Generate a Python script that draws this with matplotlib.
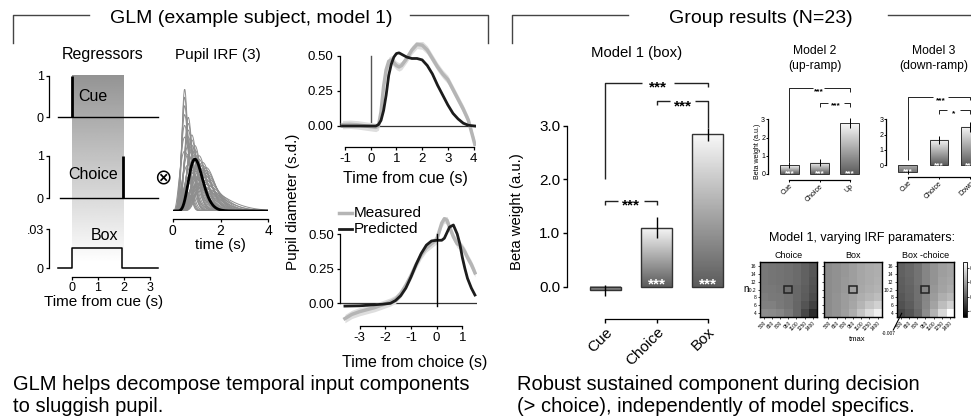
import numpy as np
import matplotlib
matplotlib.use("Agg")
import matplotlib.pyplot as plt
from matplotlib.lines import Line2D
from matplotlib.patches import Rectangle
from matplotlib.transforms import ScaledTranslation
from matplotlib.colors import Normalize
from matplotlib.cm import ScalarMappable

plt.rcParams['font.family'] = ['Liberation Sans', 'DejaVu Sans']
plt.rcParams['axes.linewidth'] = 0.9
plt.rcParams['xtick.major.width'] = 0.9
plt.rcParams['ytick.major.width'] = 0.9
plt.rcParams['axes.unicode_minus'] = False

# ---------------- data ----------------
REG_NAMES = ['Cue', 'Choice', 'Box']
CUE_T = 0.0
CHOICE_T = 1.98
BOX_END = 1.92
BOX_H = 0.0155

IRF_N = [4, 6, 8, 10.1, 12, 14, 16]
IRF_TMAX = [0.50, 0.65, 0.80, 0.93, 1.10, 1.25, 1.40]
IRF_CANON_N = 10.1
IRF_CANON_TMAX = 0.93

TC_CUE_T = [-1.1, -0.8, -0.5, -0.2, 0.0, 0.2, 0.3, 0.4, 0.5, 0.6, 0.7, 0.8, 0.9, 1.0,
            1.1, 1.2, 1.4, 1.6, 1.8, 2.0, 2.2, 2.4, 2.6, 2.8, 3.0, 3.2, 3.4, 3.6, 3.8, 4.05]
TC_CUE_MEAS = [0.01, 0.012, 0.008, 0.0, -0.005, -0.01, 0.0, 0.10, 0.28, 0.40, 0.46, 0.47, 0.45,
               0.43, 0.42, 0.43, 0.48, 0.54, 0.58, 0.575, 0.54, 0.48, 0.42, 0.37, 0.33, 0.26,
               0.19, 0.12, 0.04, -0.13]
TC_CUE_PRED = [0.0, 0.0, 0.0, 0.0, 0.0, 0.0, 0.01, 0.04, 0.11, 0.22, 0.36, 0.44, 0.49, 0.515,
               0.52, 0.51, 0.49, 0.48, 0.48, 0.47, 0.43, 0.37, 0.29, 0.22, 0.15, 0.09, 0.05,
               0.02, 0.005, 0.0]
TC_CHOICE_T = [-3.57, -3.3, -3.0, -2.7, -2.4, -2.1, -1.8, -1.6, -1.4, -1.2, -1.0, -0.8, -0.6,
               -0.4, -0.2, 0.0, 0.1, 0.2, 0.3, 0.4, 0.5, 0.65, 0.8, 0.9, 1.0, 1.1, 1.2, 1.35, 1.49]
TC_CHOICE_MEAS = [-0.11, -0.08, -0.06, -0.045, -0.03, -0.01, 0.01, 0.03, 0.07, 0.13, 0.20, 0.28,
                  0.35, 0.40, 0.43, 0.46, 0.52, 0.58, 0.61, 0.60, 0.55, 0.48, 0.43, 0.42, 0.40,
                  0.37, 0.33, 0.28, 0.22]
TC_CHOICE_PRED = [-0.02, -0.019, -0.018, -0.014, -0.01, -0.006, 0.0, 0.02, 0.055, 0.11, 0.19,
                  0.28, 0.36, 0.42, 0.45, 0.455, 0.455, 0.455, 0.47, 0.51, 0.55, 0.565, 0.50,
                  0.43, 0.33, 0.25, 0.18, 0.11, 0.06]
MEAS_SEM = 0.03

M1_CATS = ['Cue', 'Choice', 'Box']
M1_VALS = [-0.07, 1.10, 2.84]
M1_ERR = [0.10, 0.19, 0.12]
M1_BAR_STARS = ['', '***', '***']

M2_CATS = ['Cue', 'Choice', 'Up']
M2_VALS = [0.49, 0.63, 2.80]
M2_ERR = [0.18, 0.18, 0.30]
M2_BAR_STARS = ['***', '***', '***']

M3_CATS = ['Cue', 'Choice', 'Down']
M3_VALS = [-0.45, 1.65, 2.52]
M3_ERR = [0.12, 0.25, 0.33]
M3_BAR_STARS = ['***', '***', '***']

HM_N_LABELS = ['16', '14', '12', '10.2', '8', '6', '4']
HM_TMAX_LABELS = ['500', '650', '800', '950', '1100', '1250', '1400']
HM_TITLES = ['Choice', 'Box', 'Box -choice']
HM_CHOICE = [[0.47, 0.46, 0.45, 0.44, 0.42, 0.38, 0.34],
             [0.47, 0.46, 0.45, 0.44, 0.42, 0.38, 0.34],
             [0.47, 0.46, 0.45, 0.44, 0.42, 0.38, 0.33],
             [0.48, 0.47, 0.46, 0.44, 0.41, 0.37, 0.32],
             [0.49, 0.48, 0.47, 0.45, 0.41, 0.36, 0.30],
             [0.50, 0.50, 0.48, 0.45, 0.40, 0.33, 0.26],
             [0.55, 0.54, 0.52, 0.48, 0.40, 0.28, 0.17]]
HM_BOX = [[0.55, 0.57, 0.59, 0.62, 0.65, 0.67, 0.68],
          [0.55, 0.57, 0.59, 0.62, 0.65, 0.67, 0.68],
          [0.55, 0.57, 0.60, 0.62, 0.65, 0.67, 0.69],
          [0.55, 0.57, 0.60, 0.63, 0.66, 0.68, 0.70],
          [0.55, 0.58, 0.61, 0.64, 0.68, 0.71, 0.74],
          [0.55, 0.58, 0.61, 0.65, 0.71, 0.77, 0.82],
          [0.55, 0.58, 0.62, 0.68, 0.77, 0.86, 0.94]]
HM_DIFF = [[0.38, 0.41, 0.45, 0.52, 0.58, 0.62, 0.64],
           [0.38, 0.41, 0.45, 0.52, 0.58, 0.62, 0.64],
           [0.37, 0.40, 0.45, 0.52, 0.58, 0.63, 0.65],
           [0.36, 0.39, 0.44, 0.52, 0.59, 0.64, 0.67],
           [0.34, 0.38, 0.44, 0.52, 0.61, 0.68, 0.72],
           [0.32, 0.36, 0.43, 0.53, 0.64, 0.74, 0.82],
           [0.28, 0.33, 0.41, 0.55, 0.70, 0.85, 1.00]]

# ---------------- helpers ----------------
W, H = 971, 420
fig = plt.figure(figsize=(W / 100, H / 100), dpi=100)
fig.patch.set_facecolor('white')


def add_ax(x0, y0, x1, y1, **kw):
    return fig.add_axes([x0 / W, 1 - y1 / H, (x1 - x0) / W, (y1 - y0) / H], **kw)


def ftext(x, y, s, **kw):
    return fig.text(x / W, 1 - y / H, s, **kw)


def fline(xs, ys, **kw):
    fig.add_artist(Line2D([x / W for x in xs], [1 - y / H for y in ys], **kw))


def clean(ax, left=True, bottom=True):
    ax.patch.set_alpha(0)
    ax.spines['top'].set_visible(False)
    ax.spines['right'].set_visible(False)
    ax.spines['left'].set_visible(left)
    ax.spines['bottom'].set_visible(bottom)
    if not left:
        ax.set_yticks([])
    if not bottom:
        ax.set_xticks([])


def star(ax, x, y, s, fs, color='k', weight='bold'):
    off = ScaledTranslation(0, -0.60 * fs / 72, fig.dpi_scale_trans)
    ax.text(x, y, s, fontsize=fs, color=color, ha='center', va='baseline',
            fontweight=weight, transform=ax.transData + off, zorder=7)


def bracket(ax, x1, x2, h, l1, l2, label, xt, gap, fs, lw, color='#222'):
    ax.plot([x1, x1, xt - gap], [l1, h, h], color=color, lw=lw, zorder=6,
            solid_capstyle='butt', clip_on=False)
    ax.plot([xt + gap, x2, x2], [h, h, l2], color=color, lw=lw, zorder=6,
            solid_capstyle='butt', clip_on=False)
    star(ax, xt, h, label, fs)


def grad_bar(ax, x, v, w, lw):
    if v >= 0:
        g = np.linspace(0.97, 0.36, 128)[:, None]
        ext = (x - w / 2, x + w / 2, 0, v)
    else:
        g = np.linspace(0.68, 0.45, 128)[:, None]
        ext = (x - w / 2, x + w / 2, v, 0)
    ax.imshow(g, extent=ext, origin='upper', cmap='gray', vmin=0, vmax=1,
              aspect='auto', interpolation='bilinear', zorder=2)
    ax.add_patch(Rectangle((x - w / 2, min(0, v)), w, abs(v), fill=False,
                           ec='#333333', lw=lw, zorder=3))


# ---------------- headers ----------------
LC = '#444444'
fline([13.3, 13.3, 89.3], [43.3, 15, 15], color=LC, lw=1)
fline([410, 488.3, 488.3], [15, 15, 43.3], color=LC, lw=1)
fline([511.7, 511.7, 628.3], [43.3, 15, 15], color=LC, lw=1)
fline([888.3, 972], [15, 15], color=LC, lw=1)
ftext(251, 23.3, 'GLM (example subject, model 1)', fontsize=14, ha='center', va='baseline')
ftext(761, 23.3, 'Group results (N=23)', fontsize=14, ha='center', va='baseline')

# ---------------- regressors ----------------
XL_REG = (-0.6, 3.35)
bg = add_ax(56.4, 75, 159.1, 263)
bg.imshow(np.linspace(0.58, 1.0, 256)[:, None], extent=(CUE_T, CHOICE_T, 0, 1),
          origin='upper', cmap='gray', vmin=0, vmax=1, aspect='auto', interpolation='bilinear')
bg.set_xlim(*XL_REG)
bg.set_ylim(0, 1)
bg.axis('off')

reg_specs = [(76, 117, 1.0, ['0', '1']), (156, 198.3, 1.0, ['0', '1']),
             (229.3, 268.3, 0.03, ['0', '.03'])]
reg_axes = []
for i, (y0, y1, top, tl) in enumerate(reg_specs):
    ax = add_ax(56.4, y0, 159.1, y1)
    clean(ax, left=True, bottom=(i == 2))
    ax.set_xlim(*XL_REG)
    ax.set_ylim(0, top)
    ax.spines['left'].set_position(('outward', 5))
    ax.spines['left'].set_bounds(0, top)
    ax.set_yticks([0, top])
    ax.set_yticklabels(tl)
    ax.tick_params(axis='y', length=2.5, pad=1.5, labelsize=9)
    reg_axes.append(ax)

ax = reg_axes[0]
ax.plot([-0.55, 3.3], [0, 0], color='k', lw=1, clip_on=False)
ax.plot([CUE_T, CUE_T], [0, 1], color='k', lw=2, clip_on=False, solid_capstyle='butt')
ax = reg_axes[1]
ax.plot([-0.45, 3.3], [0, 0], color='k', lw=1, clip_on=False)
ax.plot([CHOICE_T, CHOICE_T], [0, 1], color='k', lw=2, clip_on=False, solid_capstyle='butt')
ax = reg_axes[2]
ax.plot([-0.52, CUE_T, CUE_T, BOX_END, BOX_END, 3.3], [0, 0, BOX_H, BOX_H, 0, 0], color='k',
        lw=1.1, clip_on=False)
ax.spines['bottom'].set_position(('outward', 6))
ax.spines['bottom'].set_bounds(0, 3)
ax.set_xticks([0, 1, 2, 3])
ax.tick_params(axis='x', length=2.5, pad=1.5, labelsize=9)

ftext(93.3, 96.7, REG_NAMES[0], fontsize=11.5, ha='center', va='center')
ftext(93.3, 174, REG_NAMES[1], fontsize=11.5, ha='center', va='center')
ftext(104, 236, REG_NAMES[2], fontsize=11.5, ha='center', va='center')
ftext(103, 55, 'Regressors', fontsize=11.5, ha='center', va='center')
ftext(103.5, 302, 'Time from cue (s)', fontsize=11, ha='center', va='center')

# ---------------- IRF ----------------
irf_ax = add_ax(172.7, 89.3, 268.3, 211)
clean(irf_ax, left=False, bottom=True)
tt = np.linspace(0, 4, 400)


def erlang(t, n, tmax):
    h = t ** n * np.exp(-n * t / tmax)
    return h / h.sum()


ymax = 0
for n in IRF_N:
    for tm in IRF_TMAX:
        hh = erlang(tt, n, tm)
        ymax = max(ymax, hh.max())
        irf_ax.plot(tt, hh, color='#8e8e8e', lw=0.7, zorder=1)
irf_ax.plot(tt, erlang(tt, IRF_CANON_N, IRF_CANON_TMAX), color='k', lw=2, zorder=3)
irf_ax.set_xlim(0, 4)
irf_ax.set_ylim(0, ymax)
irf_ax.spines['bottom'].set_position(('outward', 5.8))
irf_ax.set_xticks([0, 2, 4])
irf_ax.tick_params(axis='x', length=2.5, pad=1.0, labelsize=10)
ftext(218, 55, 'Pupil IRF (3)', fontsize=11, ha='center', va='center')
ftext(220.8, 245, 'time (s)', fontsize=11, ha='center', va='center')
ftext(163, 178, '\u2297', fontsize=15, ha='center', va='center', family='DejaVu Sans')

# ---------------- time courses ----------------
MEAS_C, BAND_C, PRED_C = '#b5b5b5', '#dedede', '#1c1c1c'


def timecourse(ax, t, meas, pred, xl, yl, xb):
    t = np.asarray(t)
    meas = np.asarray(meas)
    clean(ax)
    ax.axhline(0, color='#333333', lw=0.9, zorder=1)
    ax.fill_between(t, meas - MEAS_SEM, meas + MEAS_SEM, color=BAND_C, lw=0, zorder=2)
    ax.plot(t, meas, color=MEAS_C, lw=2.5, zorder=3)
    ax.plot(t, pred, color=PRED_C, lw=2, zorder=4)
    ax.set_xlim(*xl)
    ax.set_ylim(*yl)
    ax.spines['left'].set_bounds(0, 0.5)
    ax.spines['bottom'].set_bounds(*xb)
    ax.set_yticks([0, 0.25, 0.5])
    ax.set_yticklabels(['0.00', '0.25', '0.50'])
    ax.set_xticks(range(xb[0], xb[1] + 1))
    ax.tick_params(length=2.5, pad=2, labelsize=9.5)


tc1 = add_ax(339.9, 41.6, 476.1, 147.1)
timecourse(tc1, TC_CUE_T, TC_CUE_MEAS, TC_CUE_PRED, (-1.2, 4.1), (-0.15, 0.6), (-1, 4))
tc1.plot([0, 0], [0, 0.5], color='#555555', lw=1, zorder=1.5)
ftext(405.3, 178, 'Time from cue (s)', fontsize=11.5, ha='center', va='center')

tc2 = add_ax(340.3, 217.4, 476.5, 325.5)
timecourse(tc2, TC_CHOICE_T, TC_CHOICE_MEAS, TC_CHOICE_PRED, (-3.75, 1.55), (-0.16, 0.62), (-3, 1))
tc2.plot([0, 0], [-0.02, 0.5], color='k', lw=1, zorder=5)
ftext(415, 362, 'Time from choice (s)', fontsize=11.5, ha='center', va='center')

ftext(293.3, 201.7, 'Pupil diameter (s.d.)', fontsize=11, ha='center', va='center', rotation=90)
fline([339, 352], [212.7, 212.7], color=MEAS_C, lw=2.5)
fline([339, 352], [229.5, 229.5], color=PRED_C, lw=2)
ftext(353.5, 212.7, 'Measured', fontsize=11, ha='left', va='center')
ftext(353.5, 229.5, 'Predicted', fontsize=11, ha='left', va='center')


# ---------------- bar charts ----------------
def barchart(ax, cats, vals, errs, xl, yl, w, fs_tick, lw, tick_len, pad):
    clean(ax)
    for i, (v, e) in enumerate(zip(vals, errs)):
        grad_bar(ax, i, v, w, lw)
        ax.plot([i, i], [v - e, v + e], color='k', lw=lw, zorder=5, solid_capstyle='butt')
    ax.set_xlim(*xl)
    ax.set_ylim(*yl)
    ax.spines['left'].set_bounds(0, 3)
    ax.spines['bottom'].set_bounds(0, len(cats) - 1)
    ax.set_yticks([0, 1, 2, 3])
    ax.set_xticks(range(len(cats)))
    ax.set_xticklabels(cats, rotation=45, ha='right', rotation_mode='anchor')
    ax.tick_params(length=tick_len, pad=pad, labelsize=fs_tick, width=lw)


m1 = add_ax(566.7, 71.9, 733.3, 318.9)
barchart(m1, M1_CATS, M1_VALS, M1_ERR, (-0.754, 2.5), (-0.6, 4.0), 0.6, 11, 1, 3, 1.5)
for i, s in enumerate(M1_BAR_STARS):
    if s:
        star(m1, i, 0.13, s, 11, color='white')
m1.set_yticklabels(['0.0', '1.0', '2.0', '3.0'])
bracket(m1, 0, 2, 3.80, 2.0, 3.71, '***', 1.03, 0.32, 11, 1)
bracket(m1, 1, 2, 3.46, 3.38, 2.96, '***', 1.51, 0.25, 11, 1)
bracket(m1, 0, 1, 1.60, 1.52, 1.52, '***', 0.5, 0.26, 11, 1)
ftext(636.7, 56.7, 'Model 1 (box)', fontsize=10.7, ha='center', va='baseline')
ftext(516.7, 211.7, 'Beta weight (a.u.)', fontsize=10.7, ha='center', va='center', rotation=90)

m2 = add_ax(767.8, 84.8, 861.7, 180.0)
barchart(m2, M2_CATS, M2_VALS, M2_ERR, (-0.72, 2.4), (-0.33, 4.9), 0.64, 5, 0.7, 1.3, 0.6)
for i, s in enumerate(M2_BAR_STARS):
    star(m2, i, 0.18, s, 6, color='white')
bracket(m2, 0, 2, 4.71, 0.68, 4.52, '***', 0.97, 0.18, 6, 0.7)
bracket(m2, 1, 2, 3.92, 3.66, 3.66, '***', 1.55, 0.27, 6, 0.7)
ftext(815, 54.5, 'Model 2', fontsize=8.7, ha='center', va='baseline')
ftext(815, 69, '(up-ramp)', fontsize=8.7, ha='center', va='baseline')
ftext(757.5, 151.7, 'Beta weight (a.u.)', fontsize=5, ha='center', va='center', rotation=90)

m3 = add_ax(886.0, 92.8, 982.7, 176.9)
barchart(m3, M3_CATS, M3_VALS, M3_ERR, (-0.7, 2.4), (-0.78, 4.75), 0.6, 5, 0.7, 1.3, 0.6)
for i, s in enumerate(M3_BAR_STARS):
    yc = M3_VALS[i] / 2 if M3_VALS[i] < 0 else 0.2
    star(m3, i, yc, s, 6, color='white')
bracket(m3, 0, 2, 4.49, 0.33, 4.30, '***', 1.06, 0.24, 6, 0.7)
bracket(m3, 1, 2, 3.62, 3.36, 3.36, '*', 1.46, 0.22, 6, 0.7)
ftext(933.3, 54.5, 'Model 3', fontsize=8.7, ha='center', va='baseline')
ftext(933.3, 69, '(down-ramp)', fontsize=8.7, ha='center', va='baseline')

# ---------------- heatmaps ----------------
hm_x = [(760, 816.7), (824.3, 881.7), (896.7, 954)]
for k, (data, (x0, x1)) in enumerate(zip([HM_CHOICE, HM_BOX, HM_DIFF], hm_x)):
    ax = add_ax(x0, 261.7, x1, 317.3)
    ax.imshow(np.array(data), cmap='gray', vmin=0, vmax=1, aspect='auto', interpolation='nearest')
    ax.add_patch(Rectangle((2.5, 2.5), 1, 1, fill=False, ec='#222222', lw=1.1))
    ax.set_xticks(range(7))
    ax.set_xticklabels(HM_TMAX_LABELS, rotation=45, ha='right', rotation_mode='anchor')
    ax.set_yticks(range(7))
    ax.set_yticklabels(HM_N_LABELS if k != 1 else [''] * 7)
    ax.tick_params(length=1.5, width=0.5, pad=1, labelsize=3.5)
    for sp in ax.spines.values():
        sp.set_linewidth(1.0)
    ftext((x0 + x1) / 2, 256, HM_TITLES[k], fontsize=6.5, ha='center', va='center')

cax = add_ax(963.3, 261.7, 966.7, 317.3)
cb = fig.colorbar(ScalarMappable(norm=Normalize(-0.007, 0.012), cmap='gray'), cax=cax)
cb.ax.tick_params(labelsize=3.5, length=1.5, width=0.5, pad=1)
cb.outline.set_linewidth(0.6)

ftext(861.7, 238, 'Model 1, varying IRF paramaters:', fontsize=9, ha='center', va='center')
ftext(745.7, 289.3, 'n', fontsize=7, ha='center', va='center')
ftext(856.7, 339.3, 'tmax', fontsize=5.5, ha='center', va='center')
ftext(888.3, 333.3, '-0.007', fontsize=3.5, ha='center', va='center')
fline([893.3, 901.7], [330, 313.3], color='k', lw=0.8)

# ---------------- captions ----------------
ftext(13, 390, 'GLM helps decompose temporal input components', fontsize=14.5, ha='left', va='baseline')
ftext(13, 412, 'to sluggish pupil.', fontsize=14.5, ha='left', va='baseline')
ftext(517, 390, 'Robust sustained component during decision', fontsize=14.5, ha='left', va='baseline')
ftext(517, 412, '(> choice), independently of model specifics.', fontsize=14.5, ha='left', va='baseline')

fig.savefig('out.png', dpi=100, facecolor='white')
